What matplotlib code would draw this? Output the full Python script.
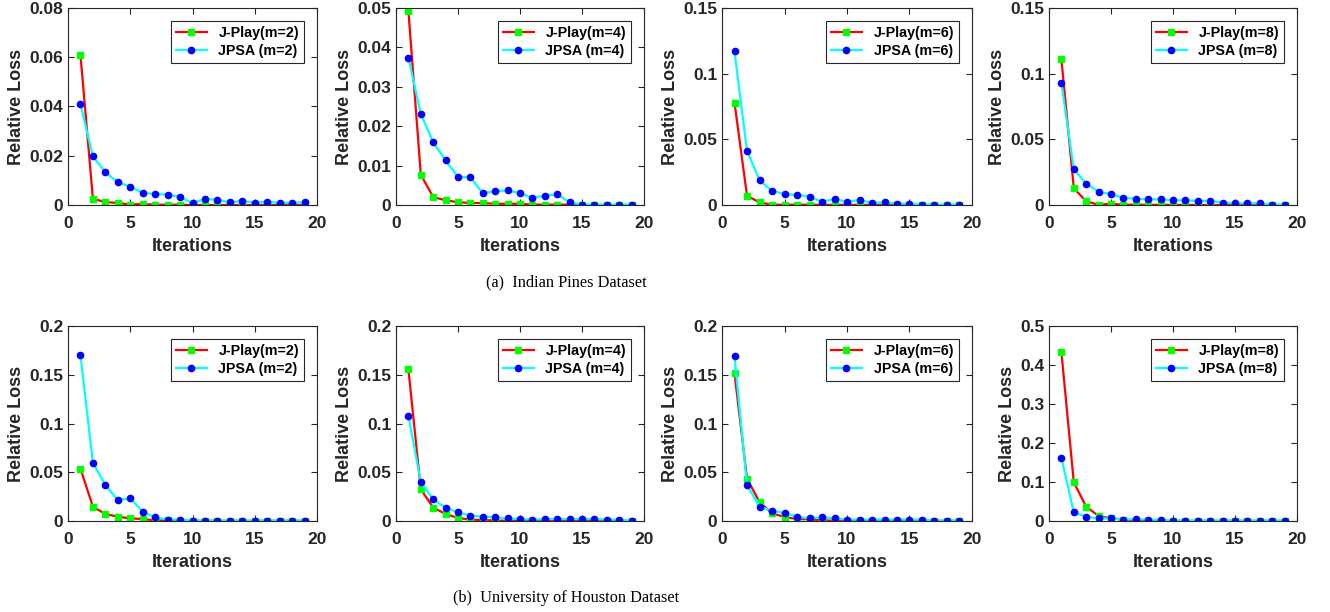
import matplotlib
matplotlib.use("Agg")
import matplotlib.pyplot as plt
import numpy as np

iterations = np.arange(1, 20)

# --- (a) Indian Pines ---
ip_jplay_m2 = [0.061, 0.0025, 0.0012, 0.0008, 0.0002, 0.0004, 0.0001, 0.0001, 0.0001, 0.0,
               0.0, 0.0, 0.0, 0.0, 0.0, 0.0, 0.0, 0.0, 0.0]
ip_jpsa_m2 = [0.041, 0.0197, 0.0133, 0.0092, 0.0075, 0.0049, 0.0045, 0.0042, 0.0032, 0.0008,
              0.0025, 0.0021, 0.0011, 0.0017, 0.0009, 0.0014, 0.0008, 0.0009, 0.0011]
ip_jplay_m4 = [0.0493, 0.0077, 0.002, 0.0012, 0.0007, 0.0005, 0.0005, 0.0003, 0.0003, 0.0003,
               0.0001, 0.0001, 0.0001, 0.0001, 0.0, 0.0, 0.0, 0.0, 0.0]
ip_jpsa_m4 = [0.0374, 0.0231, 0.0159, 0.0113, 0.0071, 0.0071, 0.003, 0.0035, 0.0037, 0.003,
              0.0018, 0.0024, 0.0027, 0.0007, 0.0001, 0.0001, 0.0001, 0.0001, 0.0001]
ip_jplay_m6 = [0.078, 0.007, 0.002, 0.0002, 0.0002, 0.0002, 0.0002, 0.0001, 0.0001, 0.0001,
               0.0001, 0.0, 0.0, 0.0, 0.0, 0.0, 0.0, 0.0, 0.0]
ip_jpsa_m6 = [0.117, 0.0414, 0.0188, 0.0107, 0.0084, 0.0076, 0.0064, 0.0025, 0.0046, 0.0025,
              0.0038, 0.0015, 0.002, 0.001, 0.001, 0.0003, 0.0003, 0.0003, 0.0003]
ip_jplay_m8 = [0.111, 0.0128, 0.0028, 0.0002, 0.001, 0.0002, 0.0002, 0.0001, 0.0001, 0.0001,
               0.0001, 0.0, 0.0, 0.0, 0.0, 0.0, 0.0, 0.0, 0.0]
ip_jpsa_m8 = [0.0929, 0.0273, 0.0163, 0.0102, 0.0082, 0.0054, 0.0048, 0.0043, 0.0043, 0.0036,
              0.0036, 0.003, 0.003, 0.0018, 0.0013, 0.0013, 0.0013, 0.0003, 0.0003]

# --- (b) University of Houston ---
uh_jplay_m2 = [0.0537, 0.0147, 0.0072, 0.0044, 0.0027, 0.002, 0.0007, 0.0007, 0.0003, 0.0003,
               0.0002, 0.0002, 0.0002, 0.0002, 0.0002, 0.0002, 0.0002, 0.0002, 0.0002]
uh_jpsa_m2 = [0.170, 0.0598, 0.0369, 0.0215, 0.0232, 0.0096, 0.0038, 0.0014, 0.0014, 0.0003,
              0.0002, 0.0002, 0.0002, 0.0002, 0.0002, 0.0002, 0.0002, 0.0002, 0.0002]
uh_jplay_m4 = [0.1556, 0.0325, 0.0137, 0.0072, 0.0031, 0.0014, 0.001, 0.0005, 0.0002, 0.0002,
               0.0001, 0.0001, 0.0001, 0.0001, 0.0001, 0.0001, 0.0001, 0.0001, 0.0]
uh_jpsa_m4 = [0.108, 0.040, 0.0222, 0.0137, 0.0089, 0.0055, 0.0044, 0.0038, 0.0027, 0.002,
              0.0014, 0.002, 0.002, 0.002, 0.002, 0.002, 0.0014, 0.0014, 0.0]
uh_jplay_m6 = [0.1515, 0.0434, 0.0195, 0.0079, 0.0041, 0.002, 0.0017, 0.0007, 0.0003, 0.0002,
               0.0002, 0.0002, 0.0002, 0.0002, 0.0002, 0.0002, 0.0002, 0.0002, 0.0002]
uh_jpsa_m6 = [0.169, 0.0369, 0.0147, 0.0106, 0.0082, 0.0044, 0.0027, 0.0038, 0.0027, 0.0014,
              0.0014, 0.0014, 0.0014, 0.0014, 0.0014, 0.0014, 0.0002, 0.0002, 0.0002]
uh_jplay_m8 = [0.433, 0.099, 0.0368, 0.0128, 0.0068, 0.0034, 0.001, 0.0005, 0.0005, 0.0003,
               0.0003, 0.0003, 0.0003, 0.0003, 0.0003, 0.0003, 0.0003, 0.0003, 0.0003]
uh_jpsa_m8 = [0.162, 0.0222, 0.011, 0.0068, 0.0068, 0.0034, 0.005, 0.0034, 0.0034, 0.001,
              0.001, 0.001, 0.001, 0.001, 0.001, 0.001, 0.001, 0.001, 0.001]

m_values = [2, 4, 6, 8]
top_jplay = [ip_jplay_m2, ip_jplay_m4, ip_jplay_m6, ip_jplay_m8]
top_jpsa = [ip_jpsa_m2, ip_jpsa_m4, ip_jpsa_m6, ip_jpsa_m8]
bot_jplay = [uh_jplay_m2, uh_jplay_m4, uh_jplay_m6, uh_jplay_m8]
bot_jpsa = [uh_jpsa_m2, uh_jpsa_m4, uh_jpsa_m6, uh_jpsa_m8]

top_ylim = [0.08, 0.05, 0.15, 0.15]
top_yticks = [[0, 0.02, 0.04, 0.06, 0.08], [0, 0.01, 0.02, 0.03, 0.04, 0.05],
              [0, 0.05, 0.1, 0.15], [0, 0.05, 0.1, 0.15]]
top_ylabels = [["0", "0.02", "0.04", "0.06", "0.08"],
               ["0", "0.01", "0.02", "0.03", "0.04", "0.05"],
               ["0", "0.05", "0.1", "0.15"], ["0", "0.05", "0.1", "0.15"]]
bot_ylim = [0.2, 0.2, 0.2, 0.5]
bot_yticks = [[0, 0.05, 0.1, 0.15, 0.2]] * 3 + [[0, 0.1, 0.2, 0.3, 0.4, 0.5]]
bot_ylabels = [["0", "0.05", "0.1", "0.15", "0.2"]] * 3 + [["0", "0.1", "0.2", "0.3", "0.4", "0.5"]]

W, H = 1330, 612
fig = plt.figure(figsize=(W / 100, H / 100), dpi=100)

dark = "#262626"
plt.rcParams["font.family"] = ["Liberation Sans", "DejaVu Sans"]

# axes boxes in pixels: (left, right)
lefts = [68, 396, 722, 1049]
rights = [317, 644, 972, 1297]
rows = [(8, 205), (326, 521)]


def draw(ax, jplay, jpsa, m, ymax, yticks, ylabels):
    ax.plot(iterations, jplay, color="#ff0000", lw=1.6, marker="s", ms=4,
            mfc="#00ff00", mec="#00ff00", label=f"J-Play(m={m})")
    ax.plot(iterations, jpsa, color="#00ffff", lw=1.6, marker="o", ms=4.5,
            mfc="#0000ff", mec="#0000ff", label=f"JPSA (m={m})")
    ax.set_xlim(0, 20)
    ax.set_ylim(0, ymax)
    ax.set_xticks([0, 5, 10, 15, 20])
    ax.set_yticks(yticks)
    ax.set_yticklabels(ylabels)
    ax.tick_params(direction="in", top=True, right=True, length=4, width=0.8,
                   colors=dark, labelsize=12.5, labelcolor=dark)
    ax.tick_params(axis="x", pad=8)
    for lab in ax.get_xticklabels() + ax.get_yticklabels():
        lab.set_fontweight("bold")
    for sp in ax.spines.values():
        sp.set_color(dark)
        sp.set_linewidth(0.8)
    ax.set_xlabel("Iterations", fontsize=13, fontweight="bold", color=dark, labelpad=5)
    ax.set_ylabel("Relative Loss", fontsize=13, fontweight="bold", color=dark, labelpad=3)
    leg = ax.legend(loc="upper right", prop={"weight": "bold", "size": 10.3},
                    fancybox=False, edgecolor=dark, framealpha=1, borderaxespad=0.9,
                    handlelength=2.2, borderpad=0.35, labelspacing=0.3)
    leg.get_frame().set_linewidth(0.8)


for r, (ytop, ybot) in enumerate(rows):
    for i in range(4):
        ax = fig.add_axes([lefts[i] / W, 1 - ybot / H, (rights[i] - lefts[i]) / W, (ybot - ytop) / H])
        if r == 0:
            draw(ax, top_jplay[i], top_jpsa[i], m_values[i], top_ylim[i], top_yticks[i], top_ylabels[i])
        else:
            draw(ax, bot_jplay[i], bot_jpsa[i], m_values[i], bot_ylim[i], bot_yticks[i], bot_ylabels[i])

fig.text(566 / W, 1 - 282 / H, "(a)  Indian Pines Dataset", ha="center", va="center",
         fontsize=11.7, family="Liberation Serif", color="black")
fig.text(566 / W, 1 - 598 / H, "(b)  University of Houston Dataset", ha="center", va="center",
         fontsize=11.7, family="Liberation Serif", color="black")

fig.savefig("out.png", dpi=100)
